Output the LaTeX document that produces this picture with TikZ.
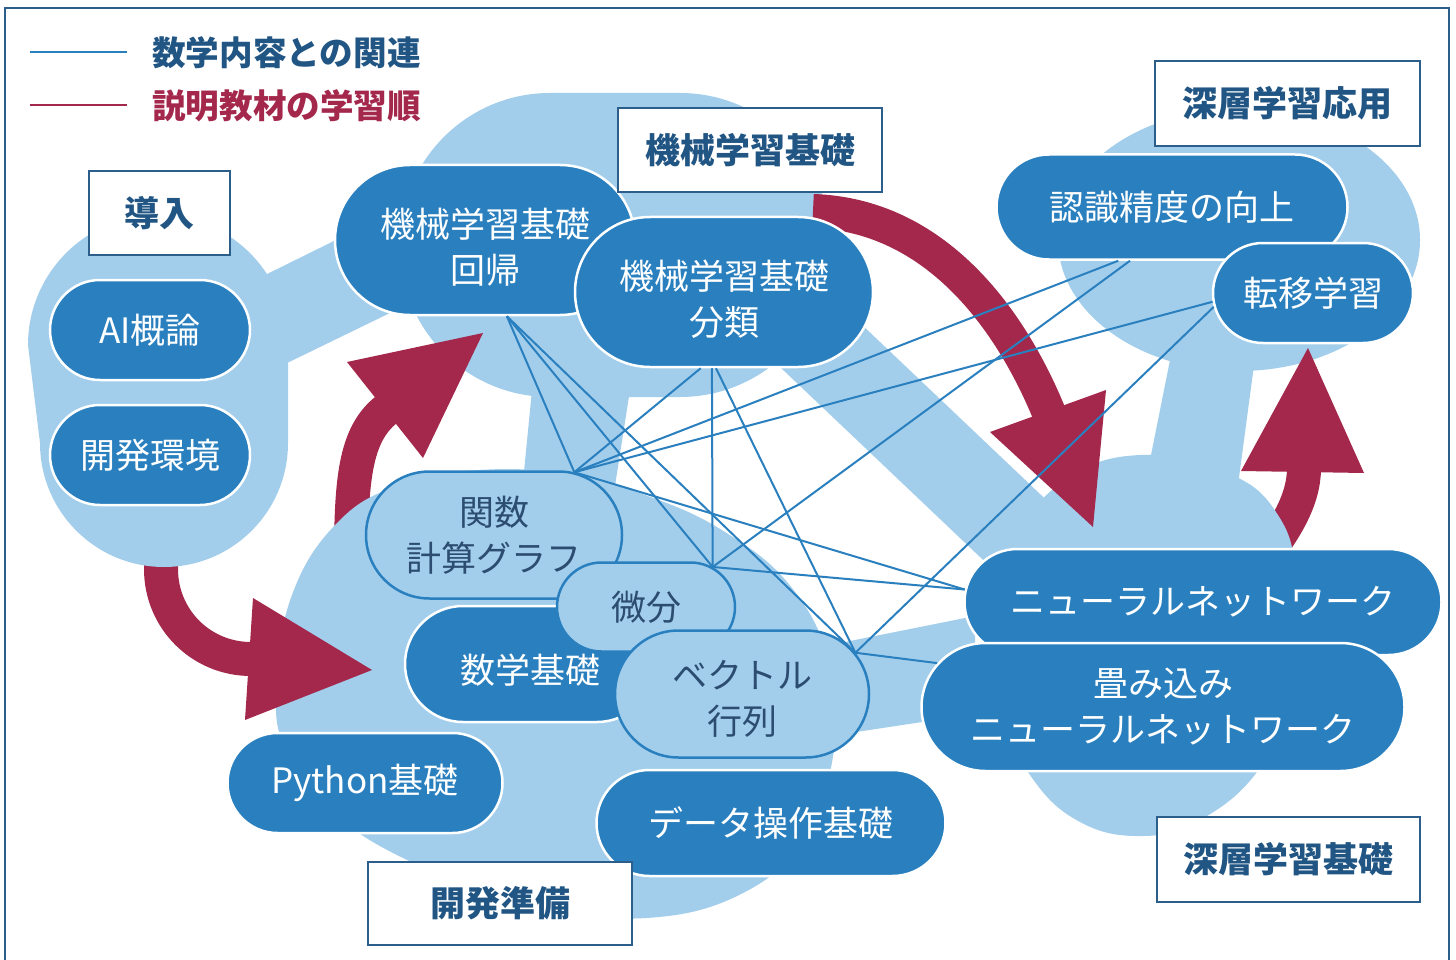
\documentclass[tikz,border=0pt]{standalone}
\usepackage{fontspec}
\setmainfont{Noto Sans CJK JP}
\usetikzlibrary{shapes.misc}
\definecolor{lb}{HTML}{A2CEEC}
\definecolor{db}{HTML}{2A80BF}
\definecolor{cr}{HTML}{A4284C}
\definecolor{tb}{HTML}{215583}
\definecolor{fb}{HTML}{2C5E8C}
\definecolor{lt}{HTML}{2C4D70}
\newcommand\myov{\fontsize{35}{46}\selectfont}
\newcommand\myttl{\fontsize{35}{42}\selectfont\bfseries}
\newcommand\mylgd{\fontsize{33.6}{40}\selectfont\bfseries}
\newcommand\dnstrut[1]{\rule{0pt}{#1}}
\tikzset{
  blob/.style={fill=lb, draw=none},
  dov/.style={rounded rectangle, fill=db, draw=white, line width=2.5pt, text=white, inner sep=0pt, align=center, font=\myov},
  lov/.style={rounded rectangle, fill=lb, draw=db, line width=2.5pt, text=lt, inner sep=0pt, align=center, font=\myov},
  ttl/.style={rectangle, fill=white, draw=fb, line width=2.5pt, text=tb, inner sep=0pt, font=\myttl},
  rel/.style={draw=db, line width=2pt},
  shaft/.style={draw=cr, line width=34pt},
  ahead/.style={fill=cr, draw=none},
}
\begin{document}
\begin{tikzpicture}[x=1pt, y=-1pt]
\useasboundingbox (0,0) rectangle (1456,960);
\clip (0,0) rectangle (1456,960);
\fill[white] (0,0) rectangle (1456,960);

% --- blobs: machine learning, deep learning application, bands
\fill[blob, rounded corners=150] (400,93) rectangle (830,397);
\fill[blob] (1239,240) ellipse [x radius=181, y radius=131];
\fill[blob] (532,390) -- (630,390) -- (612,505) -- (522,492) -- cycle;
\draw[lb, line width=87pt] (760,288) -- (1100,611);
\fill[blob] (1175,335) -- (1258,335) -- (1238,485) -- (1145,485) -- cycle;

% --- arrows whose tails go under blobs
\draw[shaft] (351,562) .. controls (351,480) and (355,435) .. (386,410);
\fill[ahead] (347,362) -- (483,333) -- (423,458) -- cycle;
\draw[shaft] (1262,560) .. controls (1285,530) and (1304,500) .. (1304,468);
\fill[ahead] (1241,471) -- (1308,348) -- (1364,473) -- cycle;

% --- blobs: development preparation, deep learning basics
\fill[blob] plot[smooth cycle, tension=0.7] coordinates {(276,690) (292,595) (338,522) (400,485) (480,470) (565,474) (645,495) (725,532) (792,588) (830,665) (834,750) (805,835) (745,892) (646,918) (530,905) (420,866) (335,815) (288,755)};
\fill[blob] (780,655) -- (975,616) -- (975,714) -- (790,742) -- cycle;
\fill[blob] plot[smooth cycle, tension=0.7] coordinates {(1140,455) (1225,472) (1276,512) (1296,580) (1290,700) (1257,772) (1200,820) (1143,836) (1080,822) (1030,775) (995,700) (990,620) (1010,545) (1065,480)};

% --- arrow 1
\draw[shaft] (161,558) -- (161,569) .. controls (161,619) and (201,659) .. (251,659);
\fill[ahead] (253,598) -- (372,670) -- (245,720) -- cycle;

% --- introduction blob
\fill[blob] (28,345) arc[start angle=180, end angle=360, radius=130] -- (288,443) arc[start angle=0, end angle=180, radius=124] -- cycle;
\fill[blob] (255,280) -- (340,238) -- (392,312) -- (283,365) -- cycle;

% --- arrow 3
\draw[shaft] (813,211) .. controls (935,215) and (1010,318) .. (1049,413);
\fill[ahead] (990,432) -- (1093,527) -- (1106,390) -- cycle;

% --- frame
\draw[fb, line width=2.5pt] (5,8) rectangle (1449,990);

% --- nodes
\node[dov, minimum width=200, minimum height=100] (ai) at (150,330) {AI概論};
\node[dov, minimum width=200, minimum height=100] (env) at (150,455) {開発環境};
\node[dov, minimum width=300, minimum height=150] (kaiki) at (485,240) {\dnstrut{44pt}機械学習基礎\\回帰};
\node[dov, minimum width=298, minimum height=150] (bunrui) at (724,292) {\dnstrut{44pt}機械学習基礎\\分類};
\node[dov, minimum width=351, minimum height=105] (ninshiki) at (1172,207) {認識精度の向上};
\node[dov, minimum width=200, minimum height=100] (teni) at (1313,293) {転移学習};
\node[dov, minimum width=477, minimum height=106] (nn) at (1203,602) {ニューラルネットワーク};
\node[dov, minimum width=483, minimum height=128] (tatami) at (1163,707) {畳み込み\\ニューラルネットワーク};
\node[dov, minimum width=250, minimum height=116] (sugaku) at (530,664) {\dnstrut{42pt}数学基礎};
\node[lov, minimum width=256, minimum height=127] (kansu) at (494,535) {関数\\計算グラフ};
\node[lov, minimum width=178, minimum height=89] (bibun) at (646,607) {微分};
\node[lov, minimum width=254, minimum height=127] (vector) at (742,694) {\dnstrut{37pt}ベクトル\\行列};
\node[dov, minimum width=275, minimum height=100] (python) at (365,783) {Python基礎};
\node[dov, minimum width=349, minimum height=106] (data) at (771,823) {データ操作基礎};

% --- group titles
\node[ttl, minimum width=141, minimum height=84] (t1) at (159.5,213) {導入};
\node[ttl, minimum width=264, minimum height=84] (t2) at (750,150) {機械学習基礎};
\node[ttl, minimum width=265, minimum height=85] (t3) at (1287.5,103.5) {深層学習応用};
\node[ttl, minimum width=263, minimum height=85] (t4) at (1288.5,859.5) {深層学習基礎};
\node[ttl, minimum width=264, minimum height=83] (t5) at (500,903.5) {開発準備};

% --- relations to math content
\draw[rel] (kaiki.286.6) -- (kansu.38.5);
\draw[rel] (kaiki.286.6) -- (bibun.31.2);
\draw[rel] (kaiki.286.6) -- (vector.20.7);
\draw[rel] (bunrui.253.9) -- (kansu.38.5);
\draw[rel] (bunrui.261) -- (bibun.31.2);
\draw[rel] (bunrui.264.7) -- (vector.20.7);
\draw[rel] (ninshiki.225.3) -- (kansu.38.5);
\draw[rel] (ninshiki.232.7) -- (bibun.31.2);
\draw[rel] (teni.185.1) -- (kansu.38.5);
\draw[rel] (teni.188.1) -- (vector.20.7);
\draw[rel] (kansu.38.5) -- (nn.177.1);
\draw[rel] (bibun.31.2) -- (nn.177.9);
\draw[rel] (vector.20.7) -- (tatami.169.7);

% --- legend
\draw[db, line width=2.5pt] (30,52) -- (127,52);
\draw[cr, line width=2.5pt] (30,105) -- (127,105);
\node[anchor=west, inner sep=0pt, text=tb, font=\mylgd] (lg1) at (152,53) {数学内容との関連};
\node[anchor=west, inner sep=0pt, text=cr, font=\mylgd] (lg2) at (152,106) {説明教材の学習順};
\end{tikzpicture}
\end{document}
